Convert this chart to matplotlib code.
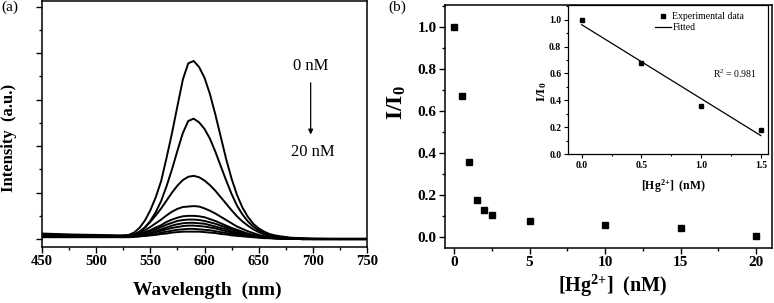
import matplotlib
matplotlib.use("Agg")
import matplotlib.pyplot as plt
from matplotlib.ticker import MultipleLocator, FormatStrFormatter

plt.rcParams['font.family'] = ['Liberation Serif', 'DejaVu Serif']
plt.rcParams['mathtext.default'] = 'regular'

# ---- data (a): emission spectra, Hg2+ from 0 nM (top) to 20 nM (bottom)
wavelength = [450, 475, 500, 520, 530, 535, 540, 545, 550, 555, 560, 565, 570,
              575, 580, 585, 590, 595, 600, 605, 610, 615, 620, 625, 630, 635,
              640, 645, 650, 655, 660, 665, 670, 680, 690, 700, 725, 750]
spectra = [
    [8, 7, 6, 6, 9, 14, 24, 40, 62, 90, 125, 175, 228, 286, 343, 378, 383, 370,
     347, 312, 268, 220, 172, 130, 95, 68, 48, 33, 23, 16, 11, 8, 6, 3, 2, 1, 1, 1],
    [6, 6, 5, 5, 6, 9, 15, 25, 39, 58, 82, 114, 150, 190, 228, 254, 259, 251,
     237, 216, 188, 157, 126, 97, 72, 53, 38, 27, 19, 13, 9, 6, 4, 2, 1, 1, 0, 0],
    [7, 6, 6, 6, 7, 10, 16, 25, 37, 51, 66, 83, 100, 115, 127, 134, 136, 133,
     126, 116, 104, 90, 76, 62, 49, 38, 29, 21, 15, 10, 7, 5, 4, 2, 1, 0, 0, 0],
    [9, 8, 7, 6, 7, 10, 14, 19, 26, 34, 42, 51, 59, 65, 69, 70, 71, 70,
     66, 61, 55, 48, 41, 34, 27, 22, 17, 13, 9, 6, 5, 3, 2, 1, 1, 0, 0, 0],
    [8, 7, 6, 6, 6, 8, 11, 15, 19, 25, 30, 37, 42, 46, 49, 50, 50, 49,
     47, 43, 39, 34, 29, 24, 20, 16, 12, 9, 7, 5, 4, 3, 2, 1, 0, 0, 0, 0],
    [10, 9, 8, 7, 7, 8, 10, 13, 17, 21, 26, 31, 35, 39, 41, 42, 42, 41,
     39, 36, 33, 29, 25, 21, 17, 13, 10, 8, 6, 4, 3, 2, 2, 1, 0, 0, 0, 0],
    [6, 6, 5, 5, 5, 6, 8, 10, 13, 17, 21, 25, 29, 32, 34, 35, 35, 34,
     33, 30, 27, 24, 21, 17, 14, 11, 9, 7, 5, 4, 3, 2, 1, 1, 0, 0, 0, 0],
    [12, 10, 9, 8, 8, 8, 9, 10, 12, 15, 18, 21, 24, 26, 28, 29, 29, 28,
     27, 25, 23, 20, 17, 14, 12, 10, 8, 6, 5, 4, 3, 2, 1, 1, 0, 0, 0, 0],
    [4, 4, 4, 4, 4, 5, 6, 7, 9, 11, 14, 16, 18, 20, 21, 22, 22, 21,
     20, 19, 17, 15, 13, 11, 9, 7, 6, 5, 4, 3, 2, 2, 1, 1, 0, 0, 0, 0],
    [7, 6, 5, 5, 5, 5, 6, 7, 8, 9, 11, 12, 14, 15, 16, 16, 16, 16,
     15, 14, 13, 11, 10, 8, 7, 6, 5, 4, 3, 2, 2, 1, 1, 1, 0, 0, 0, 0],
]

# ---- data (b): quenching ratio
hg_conc = [0, 0.5, 1, 1.5, 2, 2.5, 5, 10, 15, 20]
ratio = [1.0, 0.675, 0.36, 0.18, 0.13, 0.105, 0.08, 0.06, 0.045, 0.005]

# inset: linear range
lin_conc = [0, 0.5, 1.0, 1.5]
lin_ratio = [1.0, 0.675, 0.36, 0.18]
fit_x = [0, 1.5]
fit_y = [0.963, 0.137]

W, H = 774, 303
fig = plt.figure(figsize=(W / 100, H / 100), dpi=100)


def box(l, t, r, b):
    return [l / W, 1 - b / H, (r - l) / W, (b - t) / H]


def style(ax, size, lw=1.1, major=4, minor=2.2):
    for s in ax.spines.values():
        s.set_linewidth(lw)
    ax.tick_params(which='both', direction='out', width=lw * 0.9,
                   labelsize=size, pad=2)
    ax.tick_params(which='major', length=major)
    ax.tick_params(which='minor', length=minor)


# ---------------- panel (a)
ax1 = fig.add_axes(box(42, 1, 367, 247))
for y in spectra:
    ax1.plot(wavelength, y, color='black', lw=1.4)
ax1.set_xlim(450, 750)
ax1.set_ylim(-17, 512)
ax1.xaxis.set_major_locator(MultipleLocator(50))
ax1.xaxis.set_minor_locator(MultipleLocator(25))
ax1.yaxis.set_major_locator(MultipleLocator(100))
ax1.yaxis.set_minor_locator(MultipleLocator(50))
ax1.tick_params(axis='y', labelleft=False)
style(ax1, 10.5)
ax1.set_xlabel('Wavelength  (nm)', fontsize=14, fontweight='bold')
ax1.xaxis.set_label_coords(0.51, -0.142)
ax1.xaxis.label.set_va('top')
ax1.set_ylabel('Intensity  (a.u.)', fontsize=12, fontweight='bold')
ax1.yaxis.set_label_coords(-0.076, 0.445)
ax1.text(698, 372, '0 nM', fontsize=12, ha='center', va='center')
ax1.text(700, 187, '20 nM', fontsize=12, ha='center', va='center')
ax1.annotate('', xy=(698, 219), xytext=(698, 342),
             arrowprops=dict(arrowstyle='-|>', color='black', lw=0.9,
                             mutation_scale=7))
fig.text(1 / W, 1 - 1 / H, '(a)', fontsize=11, ha='left', va='top')

# ---------------- panel (b)
ax2 = fig.add_axes(box(445, 5, 772, 248))
ax2.plot(hg_conc, ratio, 's', color='black', ms=4.2)
ax2.set_xlim(-0.6, 21.05)
ax2.set_ylim(-0.05, 1.107)
ax2.xaxis.set_major_locator(MultipleLocator(5))
ax2.xaxis.set_minor_locator(MultipleLocator(2.5))
ax2.yaxis.set_major_locator(MultipleLocator(0.2))
ax2.yaxis.set_minor_locator(MultipleLocator(0.1))
ax2.yaxis.set_major_formatter(FormatStrFormatter('%.1f'))
style(ax2, 11)
ax2.set_xlabel('[Hg$^{2{+}}$]  (nM)', fontsize=14.5, fontweight='bold')
ax2.xaxis.set_label_coords(0.514, -0.103)
ax2.xaxis.label.set_va('top')
ax2.set_ylabel('I/I$_0$', fontsize=17, fontweight='bold')
ax2.yaxis.set_label_coords(-0.113, 0.6)
fig.text(388 / W, 1 - 1 / H, '(b)', fontsize=11, ha='left', va='top')

# inset
ins = fig.add_axes(box(568, 5, 768, 154))
ins.plot(lin_conc, lin_ratio, 's', color='black', ms=2.4,
         label='Experimental data')
ins.plot(fit_x, fit_y, '-', color='black', lw=0.9, label='Fitted')
ins.set_xlim(-0.115, 1.56)
ins.set_ylim(0, 1.11)
ins.xaxis.set_major_locator(MultipleLocator(0.5))
ins.xaxis.set_minor_locator(MultipleLocator(0.25))
ins.yaxis.set_major_locator(MultipleLocator(0.2))
ins.yaxis.set_minor_locator(MultipleLocator(0.1))
ins.xaxis.set_major_formatter(FormatStrFormatter('%.1f'))
ins.yaxis.set_major_formatter(FormatStrFormatter('%.1f'))
style(ins, 7, lw=0.9, major=2.8, minor=1.6)
ins.set_xlabel('[Hg$^{2{+}}$]  (nM)', fontsize=8.5, fontweight='bold')
ins.xaxis.set_label_coords(0.525, -0.16)
ins.xaxis.label.set_va('top')
ins.set_ylabel('I/I$_0$', fontsize=9.5, fontweight='bold')
ins.yaxis.set_label_coords(-0.095, 0.42)
ins.legend(loc='upper left', bbox_to_anchor=(655 / W, 1 - 12 / H),
           bbox_transform=fig.transFigure, frameon=False, fontsize=7,
           handlelength=1.6, handletextpad=0.2, labelspacing=0.2,
           borderpad=0, borderaxespad=0)
ins.text(1.28, 0.6, 'R$^2$ = 0.981', fontsize=7, ha='center', va='center')

# bold tick labels (set after a draw so every tick exists)
fig.canvas.draw()
for ax in (ax1, ax2, ins):
    for lab in ax.get_xticklabels() + ax.get_yticklabels():
        lab.set_fontweight('bold')

fig.savefig('out.png', dpi=100)
